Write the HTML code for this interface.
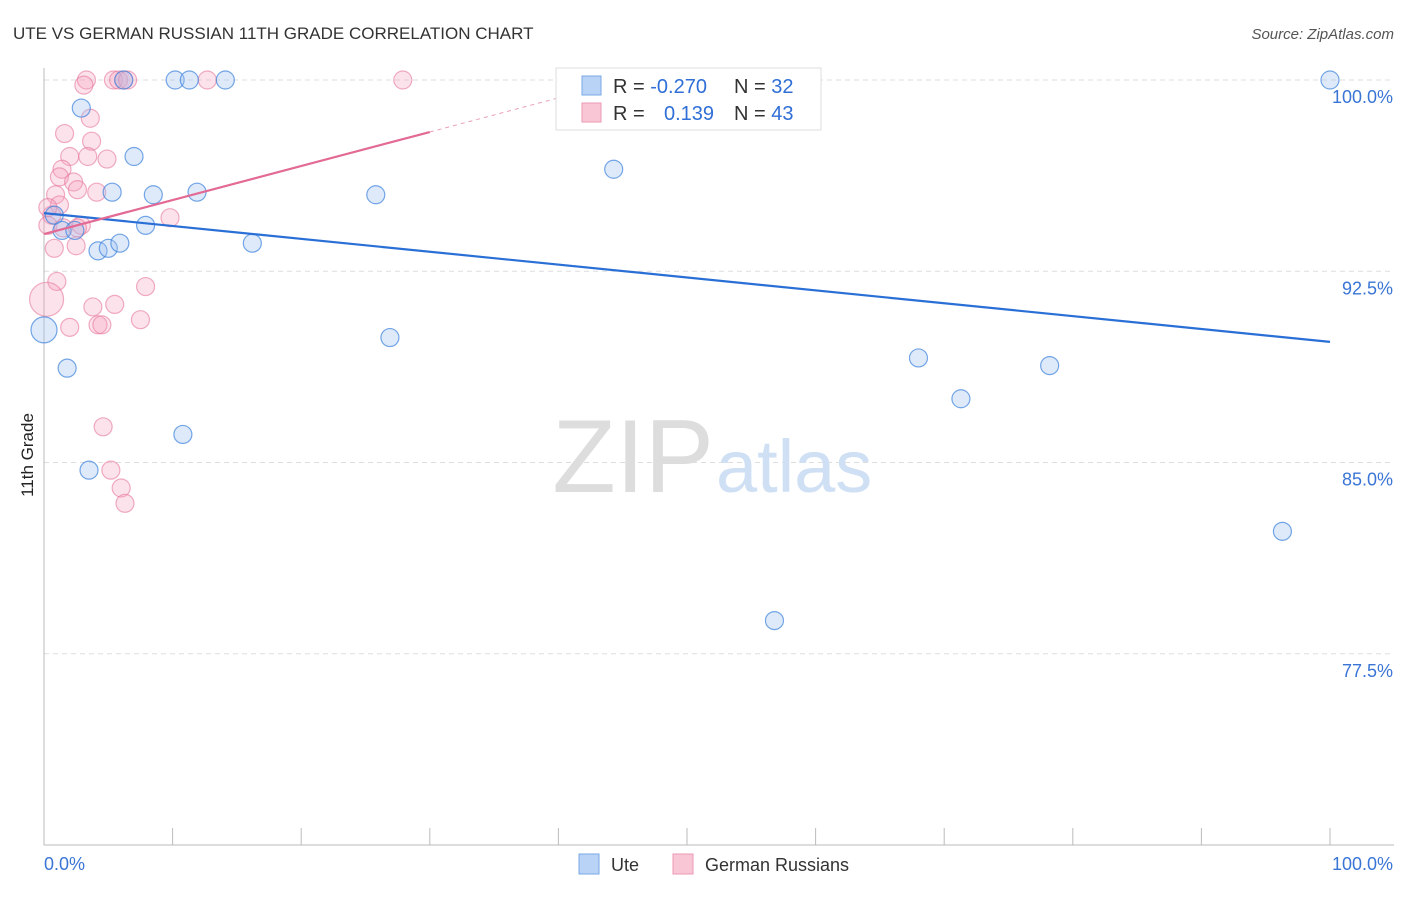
<!DOCTYPE html>
<html><head><meta charset="utf-8"><style>
body{margin:0;background:#fff;font-family:"Liberation Sans",sans-serif;}
svg text{font-family:"Liberation Sans",sans-serif;}
</style></head><body>
<svg id="chart" width="1406" height="892" xmlns="http://www.w3.org/2000/svg">
<text x="13" y="39" font-size="17" fill="#333">UTE VS GERMAN RUSSIAN 11TH GRADE CORRELATION CHART</text>
<text x="1394" y="39" font-size="15" fill="#555" text-anchor="end" font-style="italic">Source: ZipAtlas.com</text>
<text x="33" y="455" font-size="17" fill="#222" transform="rotate(-90 33 455)" text-anchor="middle">11th Grade</text>
<g id="grid"></g>
<text x="714" y="492" font-size="104" fill="#ddd" text-anchor="end" font-family="Liberation Serif">ZIP</text>
<text x="716" y="492" font-size="74" fill="#cfe0f5">atlas</text>
<g id="pts"></g>
<g id="lines"></g>
<g>
<rect x="556" y="68" width="265" height="62" fill="#fff" stroke="#ddd"/>
<rect x="582" y="76" width="19" height="19" fill="#b8d3f5" stroke="#7aa7e6"/>
<rect x="582" y="103" width="19" height="19" fill="#f8c6d5" stroke="#ec9ab4"/>
<text x="613" y="93" font-size="20" fill="#333">R = <tspan fill="#2f6fd6">-0.270</tspan></text>
<text x="734" y="93" font-size="20" fill="#333">N = <tspan fill="#2f6fd6">32</tspan></text>
<text x="613" y="120" font-size="20" fill="#333">R = <tspan fill="#2f6fd6" x="664">0.139</tspan></text>
<text x="734" y="120" font-size="20" fill="#333">N = <tspan fill="#2f6fd6">43</tspan></text>
</g>
<g>
<rect x="579" y="854" width="20" height="20" fill="#b8d3f5" stroke="#7aa7e6"/>
<text x="611" y="871" font-size="18" fill="#333">Ute</text>
<rect x="673" y="854" width="20" height="20" fill="#f8c6d5" stroke="#ec9ab4"/>
<text x="705" y="871" font-size="18" fill="#333">German Russians</text>
</g>
</svg>
<script>
const yTicks=[100,92.5,85,77.5];
const xTickLabels=["0.0%","100.0%"];
const uteX=[2.9,6.2,10.2,11.3,14.1,42.5,52.4,100,7,5.3,8.5,11.9,25.8,44.3,0.8,7.9,1.4,2.4,4.2,5,5.9,16.2,0,26.9,1.8,68,78.2,71.3,10.8,3.5,96.3,56.8];
const uteY=[98.9,100,100,100,100,100,100,100,97,95.6,95.5,95.6,95.5,96.5,94.7,94.3,94.1,94.1,93.3,93.4,93.6,93.6,90.2,89.9,88.7,89.1,88.8,87.5,86.1,84.7,82.3,78.8];
const grX=[3.3,5.4,5.8,6.2,6.5,12.7,27.9,3.1,3.6,1.6,3.7,2.0,3.4,4.9,1.4,1.2,2.3,2.6,4.1,0.9,1.2,0.6,0.3,2.9,1.5,9.8,0.8,2.5,1.0,0.2,3.8,5.5,7.9,2.0,4.2,4.5,7.5,4.6,5.2,6.0,6.3,0.3,2.6];
const grY=[100,100,100,100,100,100,100,99.8,98.5,97.9,97.6,97.0,97.0,96.9,96.5,96.2,96.0,95.7,95.6,95.5,95.1,94.7,94.3,94.3,94.2,94.6,93.4,93.5,92.1,91.4,91.1,91.2,91.9,90.3,90.4,90.4,90.6,86.4,84.7,84.0,83.4,95.0,94.2];
const uteTrend=[94.78,89.73];
const grTrend=[93.96,97.96,99.5];
const X=v=>44+v*12.86, Y=v=>80+(100-v)*25.5;
const NS="http://www.w3.org/2000/svg";
function mk(tag,attrs,parent){const e=document.createElementNS(NS,tag);for(const k in attrs)e.setAttribute(k,attrs[k]);document.getElementById(parent).appendChild(e);return e;}
yTicks.forEach((t,i)=>{
 const l=mk('line',{x1:44,x2:1394,y1:Y(t),y2:Y(t),stroke:'#ddd','stroke-dasharray':'5,4'},'grid');
 
 
 const tx=mk('text',{x:1393,y:Y(t)+23,'font-size':18,fill:'#3a75d6','text-anchor':'end'},'grid');tx.textContent=t.toFixed(1)+'%';
 
 
});
const ax=mk('line',{x1:44,x2:44,y1:68,y2:845,stroke:'#bbb'},'grid');


const bx=mk('line',{x1:44,x2:1394,y1:845,y2:845,stroke:'#bbb'},'grid');


for(let i=0;i<=10;i++){const t=mk('line',{x1:X(i*10),x2:X(i*10),y1:828,y2:845,stroke:'#bbb'},'grid');
 
 }
xTickLabels.forEach((s,i)=>{const t=mk('text',{x:i?1393:44,y:870,'font-size':18,fill:'#3a75d6','text-anchor':i?'end':'start'},'grid');t.textContent=s;
 
 });
grX.forEach((v,i)=>{const big=(i==29);const c=mk('circle',{cx:X(v),cy:Y(grY[i]),r:big?17:9,fill:'rgba(244,160,188,0.3)',stroke:'rgba(230,120,155,0.6)','stroke-width':1.2},'pts');
 
 });
uteX.forEach((v,i)=>{const big=(i==22);const c=mk('circle',{cx:X(v),cy:Y(uteY[i]),r:big?13:9,fill:'rgba(160,195,240,0.35)',stroke:'rgba(60,130,220,0.7)','stroke-width':1.2},'pts');
 
 });
const ul=mk('line',{x1:X(0),y1:Y(uteTrend[0]),x2:X(100),y2:Y(uteTrend[1]),stroke:'#2a6fd6','stroke-width':2.2},'lines');


const gl=mk('line',{x1:X(0),y1:Y(grTrend[0]),x2:X(30),y2:Y(grTrend[1]),stroke:'#e26a94','stroke-width':2.2},'lines');


const gd=mk('line',{x1:X(30),y1:Y(grTrend[1]),x2:X(41.5),y2:Y(grTrend[2]),stroke:'#eaa0b8','stroke-width':1,'stroke-dasharray':'4,4'},'lines');


</script>
</body></html>
